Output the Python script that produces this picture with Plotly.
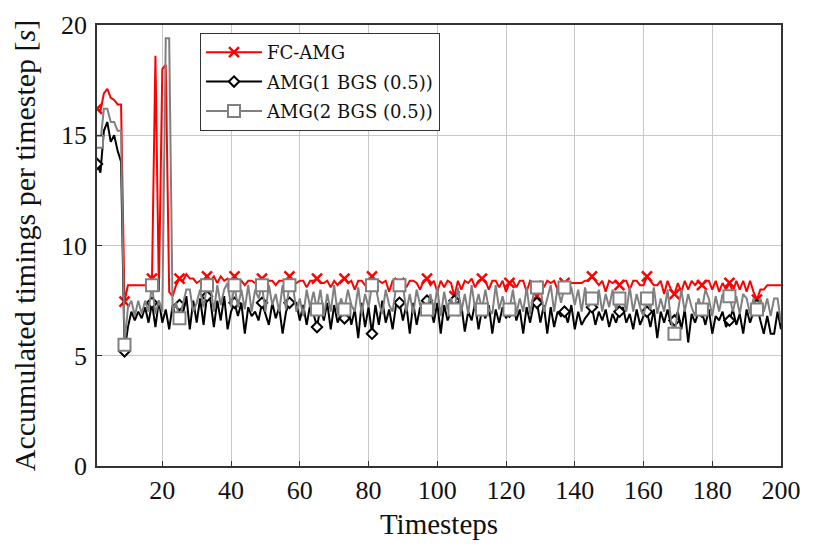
import plotly.graph_objects as go

# timings per timestep (timesteps 1..200)
timesteps = list(range(1, 201))

fc_amg = [
    16.2, 16.1, 16.9, 17.1, 16.7, 16.6, 16.4, 16.4, 7.45, 8.2,
    8.2, 8.2, 8.2, 8.2, 8.2, 8.2, 8.5, 18.6, 7.9, 18.0,
    18.2, 7.9, 7.7, 8.2, 8.5, 8.4, 8.7, 8.5, 8.5, 8.3,
    8.4, 8.4, 8.6, 8.4, 8.6, 8.3, 8.6, 8.4, 8.5, 8.3,
    8.6, 8.4, 8.4, 8.2, 8.4, 8.4, 8.3, 8.4, 8.5, 8.3,
    8.4, 8.4, 8.2, 8.4, 8.4, 8.3, 8.6, 8.4, 8.3, 8.4,
    8.4, 8.1, 8.4, 8.4, 8.5, 8.3, 8.3, 8.4, 8.1, 8.4,
    8.2, 8.4, 8.5, 8.3, 8.4, 8.0, 8.4, 8.4, 8.2, 8.4,
    8.6, 8.4, 8.4, 8.3, 8.4, 7.9, 8.4, 8.4, 8.3, 8.4,
    8.1, 8.4, 8.4, 8.3, 8.0, 8.4, 8.5, 8.2, 8.4, 7.9,
    8.4, 8.1, 8.4, 8.3, 7.7, 8.4, 8.0, 8.4, 8.3, 8.5,
    8.1, 8.4, 8.5, 8.4, 8.0, 8.4, 8.4, 8.1, 8.4, 7.9,
    8.3, 8.4, 8.1, 8.4, 8.4, 7.9, 8.4, 8.3, 7.7, 8.4,
    8.1, 8.4, 8.3, 8.4, 8.0, 8.4, 8.3, 8.3, 8.3, 8.3,
    8.3, 8.3, 8.4, 8.4, 8.6, 8.4, 8.2, 8.4, 7.9, 8.4,
    8.3, 8.4, 8.2, 8.4, 8.4, 8.0, 8.4, 8.4, 8.2, 8.2,
    8.6, 8.4, 8.2, 8.2, 8.4, 7.8, 8.4, 8.0, 7.8, 8.3,
    7.9, 8.4, 8.0, 8.4, 8.2, 8.4, 8.2, 8.4, 8.4, 8.0,
    8.4, 7.9, 8.3, 8.0, 8.3, 7.9, 8.4, 8.0, 8.4, 7.9,
    8.4, 7.9, 7.55, 8.0, 8.0, 8.2, 8.2, 8.2, 8.2, 8.2,
]

amg_1bgs = [
    13.7, 13.3, 15.2, 15.6, 14.7, 15.0, 14.3, 13.8, 5.2, 6.3,
    7.0, 6.6, 7.0, 6.7, 7.2, 6.5, 7.4, 6.3, 7.5, 6.5,
    7.1, 6.2, 7.3, 6.6, 7.3, 6.9, 7.7, 6.2, 7.5, 6.5,
    7.6, 6.4, 7.7, 7.5, 6.3, 7.5, 6.6, 7.7, 6.2, 7.0,
    7.4, 6.8, 7.4, 6.0, 7.2, 6.8, 7.0, 6.6, 7.4, 6.9,
    6.4, 7.4, 6.7, 7.2, 6.0, 7.0, 7.4, 7.4, 7.4, 6.6,
    7.3, 6.4, 7.3, 6.9, 6.3, 7.2, 6.6, 7.4, 6.2, 7.3,
    6.5, 6.9, 6.7, 7.3, 6.4, 7.1, 5.8, 7.4, 6.3, 7.2,
    6.0, 7.3, 6.4, 7.5, 6.5, 7.1, 6.2, 7.3, 7.4, 6.6,
    7.3, 6.0, 7.4, 6.4, 7.2, 7.0, 7.5, 7.2, 6.5, 7.4,
    6.0, 7.3, 6.6, 7.0, 7.5, 6.8, 7.3, 6.1, 7.0, 6.6,
    7.4, 6.2, 7.1, 6.7, 7.3, 6.0, 7.1, 6.5, 7.2, 6.7,
    7.0, 7.4, 6.6, 7.1, 6.0, 7.2, 6.5, 7.3, 7.4, 6.5,
    7.3, 6.0, 7.2, 6.3, 7.0, 6.8, 7.0, 6.5, 7.3, 6.2,
    7.0, 6.4, 6.7, 6.9, 7.2, 6.4, 7.0, 6.6, 7.1, 6.3,
    6.9, 6.5, 7.0, 7.2, 6.5, 6.9, 6.2, 7.1, 6.4, 6.8,
    7.0, 6.3, 7.1, 5.8, 7.0, 6.5, 7.1, 6.4, 6.6, 7.0,
    6.2, 7.1, 5.6, 6.9, 6.5, 7.0, 7.0, 6.4, 7.1, 6.0,
    6.8, 6.6, 7.0, 6.3, 6.6, 7.1, 6.4, 6.9, 6.0, 7.1,
    6.5, 7.0, 7.3, 6.6, 6.0, 6.8, 6.0, 6.0, 7.0, 6.2,
]

amg_2bgs = [
    14.7, 14.7, 16.2, 16.2, 15.6, 15.6, 15.2, 15.2, 5.5, 7.2,
    7.5, 6.8, 7.5, 6.9, 7.5, 7.0, 8.2, 6.9, 7.5, 7.0,
    19.4, 19.4, 7.0, 7.4, 6.7, 7.4, 8.0, 8.0, 7.0, 7.4,
    8.0, 7.2, 8.2, 8.2, 7.0, 8.2, 7.3, 8.0, 8.3, 7.2,
    8.2, 7.2, 8.0, 7.1, 8.2, 7.0, 8.0, 7.6, 8.2, 7.0,
    8.2, 7.3, 7.8, 7.0, 8.2, 7.1, 8.2, 8.2, 7.0, 7.6,
    6.8, 8.0, 7.2, 7.9, 7.1, 8.0, 6.8, 7.8, 7.0, 8.2,
    6.9, 7.6, 7.1, 8.0, 7.3, 7.0, 8.1, 6.9, 7.8, 7.2,
    8.2, 8.2, 7.4, 6.9, 8.0, 7.3, 7.0, 8.1, 8.2, 8.2,
    7.0, 7.8, 6.9, 8.0, 7.3, 7.0, 7.1, 7.8, 7.0, 8.1,
    6.8, 7.9, 7.1, 7.6, 7.1, 8.1, 7.0, 7.8, 6.9, 8.2,
    7.1, 7.8, 7.1, 8.0, 7.1, 6.9, 8.2, 7.1, 7.7, 7.0,
    7.1, 8.0, 6.9, 7.6, 7.0, 8.1, 6.9, 7.8, 8.1, 8.1,
    7.0, 7.6, 8.2, 7.0, 8.1, 7.4, 8.1, 8.1, 8.1, 7.3,
    8.0, 7.0, 8.1, 7.2, 7.6, 7.3, 8.0, 7.0, 7.8, 7.2,
    8.0, 7.1, 7.6, 7.6, 7.0, 8.1, 7.0, 7.8, 7.2, 6.8,
    7.6, 7.1, 8.1, 6.9, 7.6, 7.0, 8.0, 6.6, 6.0, 7.0,
    8.0, 7.0, 7.8, 7.2, 6.8, 7.6, 7.1, 8.0, 7.6, 6.8,
    7.7, 7.0, 7.8, 7.6, 7.7, 7.0, 7.7, 6.9, 7.8, 7.6,
    6.9, 7.6, 7.1, 7.6, 7.0, 7.6, 6.8, 7.6, 7.6, 6.5,
]

series = [
    ("FC-AMG", fc_amg, "#ff0000", "x-thin-open", 10, "#ff0000"),
    ("AMG(1 BGS (0.5))", amg_1bgs, "#000000", "diamond", 8, "#ffffff"),
    ("AMG(2 BGS (0.5))", amg_2bgs, "#808080", "square", 12, "#ffffff"),
]

mark_every = 8
serif = "Liberation Serif"

fig = go.Figure()
for name, ys, color, symbol, size, fill in series:
    fig.add_trace(go.Scatter(
        x=timesteps, y=ys, mode="lines", name=name, legendgroup=name,
        showlegend=False, line=dict(color=color, width=2),
    ))
    fig.add_trace(go.Scatter(
        x=timesteps[::mark_every], y=ys[::mark_every], mode="markers",
        legendgroup=name, showlegend=False, hoverinfo="skip",
        marker=dict(symbol=symbol, size=size, color=fill,
                    line=dict(color=color, width=2.5 if symbol.startswith("x") else 2)),
    ))
    # legend sample: line plus marker
    fig.add_trace(go.Scatter(
        x=[None], y=[None], mode="lines+markers", name=name, legendgroup=name,
        line=dict(color=color, width=2),
        marker=dict(symbol=symbol, size=size, color=fill,
                    line=dict(color=color, width=2.5 if symbol.startswith("x") else 2)),
    ))

axis_common = dict(
    showline=True, linecolor="#333333", linewidth=1.5, mirror=True,
    showgrid=True, gridcolor="#c8c8c8", gridwidth=1,
    ticks="inside", ticklen=5, tickcolor="#333333",
    tickfont=dict(family=serif, size=26, color="#111111"),
    zeroline=False,
)

fig.update_xaxes(
    range=[1, 200], tickvals=list(range(20, 201, 20)),
    title=dict(text="Timesteps", font=dict(family=serif, size=29, color="#111111"), standoff=10),
    **axis_common,
)
fig.update_yaxes(
    range=[0, 20], tickvals=[0, 5, 10, 15, 20], ticklabelstandoff=3,
    title=dict(text="Accumulated timings per timestep [<i>s</i>]",
               font=dict(family=serif, size=30, color="#111111"), standoff=20),
    **axis_common,
)

# the page body adds an 8px offset, so margins are shifted to compensate
fig.update_layout(
    width=814, height=549,
    margin=dict(l=89, r=41, t=17, b=91, autoexpand=False),
    paper_bgcolor="white", plot_bgcolor="white",
    showlegend=True,
    legend=dict(
        x=0.1506, y=0.982, xanchor="left", yanchor="top",
        bgcolor="white", bordercolor="#333333", borderwidth=1,
        font=dict(family="DejaVu Serif", size=18, color="#111111"),
        tracegroupgap=3, itemwidth=56,
    ),
)

fig.write_html("out.html")
